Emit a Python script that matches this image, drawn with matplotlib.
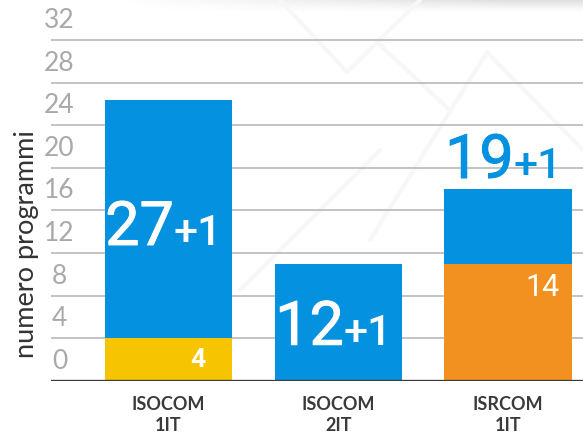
import numpy as np
import matplotlib
matplotlib.use("Agg")
import matplotlib.pyplot as plt
import matplotlib.transforms as mtransforms
import matplotlib.patheffects as pe

# ---- data ----
categories = ["ISOCOM\n1IT", "ISOCOM\n2IT", "ISRCOM\n1IT"]
bottom_values = [4, 0, 11]          # yellow / orange lower segments
top_values = [22.4, 11, 7]          # blue upper segments
bottom_colors = ["#F6C400", "#F6C400", "#F29120"]
main_labels = ["27", "12", "19"]
plus_labels = ["+1", "+1", "+1"]
bottom_labels = ["4", "", "14"]
yticks = [0, 4, 8, 12, 16, 20, 24, 28, 32]
ylabel = "numero programmi"

BLUE = "#0492E0"

fig = plt.figure(figsize=(5.83, 4.34), dpi=100)
fig.patch.set_facecolor("white")

# decorative background (faint diagonal lines and top shadow)
bg = fig.add_axes([0, 0, 1, 1], zorder=0)
bg.set_xlim(0, 583)
bg.set_ylim(434, 0)
bg.axis("off")
deco = [((280, 0), (347, 72), (420, 0)),
        ((370, 240), (487, 52), (583, 150)),
        ((380, 45), (450, 110)),
        ((240, 290), (380, 150))]
for seg in deco:
    xs, ys = zip(*seg)
    bg.plot(xs, ys, color="#f7f7f7", lw=3, solid_capstyle="round")
gy = np.linspace(0, 1, 30).reshape(-1, 1)
gx = np.clip(np.linspace(-0.3, 1.2, 200), 0, 1).reshape(1, -1)
shade = 1 - 0.13 * (1 - gy) ** 1.5 * gx
bg.imshow(shade, cmap="gray", vmin=0, vmax=1,
          extent=[0, 583, 14, 0], aspect="auto", zorder=0.5)

ax = fig.add_axes([51 / 583, 53 / 434, 1 - 51 / 583, 381 / 434], zorder=1)
ax.patch.set_alpha(0)
x = np.arange(len(categories))
width = 0.75
ax.set_xlim(-0.69, 2.44)
ax.set_ylim(0, 35.74)

for yv in yticks[1:]:
    ax.axhline(yv, color="#b3b3b3", lw=1.1, zorder=1)
ax.axhline(0, color="#3c3c3c", lw=2.4, zorder=4)

ax.bar(x, bottom_values, width, color=bottom_colors, zorder=2)
ax.bar(x, top_values, width, bottom=bottom_values, color=BLUE, zorder=2)

for s in ax.spines.values():
    s.set_visible(False)
ax.set_yticks([])
ax.set_xticks(x)
ax.set_xticklabels(categories, fontfamily="Lato", fontweight="bold",
                   fontsize=13, color="#3a3a3a", linespacing=1.3)
ax.tick_params(axis="x", length=0, pad=11)

# y tick labels sit above their gridline
off = mtransforms.offset_copy(ax.transData, fig=fig, x=0, y=5, units="points")
for yv in yticks:
    ax.text(-0.64, yv, str(yv), transform=off,
            ha="center", va="bottom", fontsize=19, color="#a9a9a9",
            fontfamily="Lato")

fig.text(27 / 583, 1 - 244 / 434, ylabel, rotation=90, ha="center",
         va="center", fontsize=19.5, color="#333333", fontfamily="Lato")

# big labels
totals = [b + t for b, t in zip(bottom_values, top_values)]
label_y = [12.76, 3.4, None]
for i in range(len(categories)):
    if label_y[i] is None:
        y0 = totals[i]
        dy = 8
        col = BLUE
    else:
        y0 = label_y[i]
        dy = 0
        col = "white"
    effects = [pe.withStroke(linewidth=0.7, foreground=col)]
    ax.annotate(main_labels[i], (x[i], y0), xytext=(4, dy),
                textcoords="offset points", ha="right", va="baseline",
                fontsize=44, color=col, fontfamily="Roboto",
                path_effects=effects, zorder=5)
    ax.annotate(plus_labels[i], (x[i], y0), xytext=(4, dy),
                textcoords="offset points", ha="left", va="baseline",
                fontsize=31, color=col, fontfamily="Roboto",
                fontweight="medium", zorder=5)

insets = [19, 9]
j = 0
for i in range(len(categories)):
    if bottom_labels[i]:
        ax.annotate(bottom_labels[i], (x[i] + width / 2, bottom_values[i]),
                    xytext=(-insets[j], -7), textcoords="offset points",
                    ha="right", va="top",
                    fontsize=19 if j == 0 else 22,
                    fontweight="bold" if j == 0 else "normal",
                    color="white", fontfamily="Roboto", zorder=5)
        j += 1

fig.savefig("out.png", dpi=100)
